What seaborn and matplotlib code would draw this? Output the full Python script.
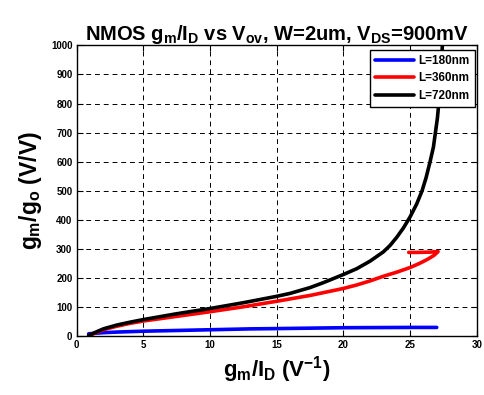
import numpy as np
import pandas as pd
import seaborn as sns
import matplotlib
matplotlib.use("Agg")
import matplotlib.pyplot as plt

# --- data ---
x_180 = [0.9, 2.0, 3.0, 5.0, 8.0, 10.0, 13.0, 15.0, 20.0, 25.0, 27.0]
y_180 = [8, 12, 14, 17, 20, 22, 25, 26, 29, 30, 30]

x_360 = [0.9, 1.5, 2.0, 3.0, 4.0, 5.0, 7.5, 10.0, 12.5, 15.0, 17.5, 20.0,
         21.0, 22.0, 23.0, 24.0, 25.0, 25.7, 26.3, 26.8, 27.1, 26.5, 25.5, 24.9]
y_360 = [2, 13, 22, 34, 44, 52, 68, 84, 101, 120, 140, 164,
         176, 190, 206, 220, 236, 250, 264, 278, 291, 289, 288, 288]

x_720 = [0.9, 1.5, 2.0, 3.0, 4.0, 5.0, 6.0, 7.5, 10.0, 12.5, 15.0, 16.0,
         17.5, 18.5, 20.0, 21.0, 22.0, 23.0, 23.5, 24.0, 24.5, 25.0, 25.5,
         25.9, 26.2, 26.5, 26.75, 26.9, 27.05, 27.15, 27.25, 27.35, 27.42]
y_720 = [2, 15, 25, 38, 48, 57, 65, 77, 95, 115, 137, 147,
         167, 184, 212, 232, 258, 290, 312, 340, 372, 410, 455,
         500, 545, 600, 650, 700, 750, 800, 860, 930, 1000]

labels = ["L=180nm", "L=360nm", "L=720nm"]
colors = ["#0000ff", "#ff0000", "#000000"]
x_ticks = [0, 5, 10, 15, 20, 25, 30]
y_ticks = [0, 100, 200, 300, 400, 500, 600, 700, 800, 900, 1000]

frames = []
for lab, xs, ys in zip(labels, [x_180, x_360, x_720], [y_180, y_360, y_720]):
    frames.append(pd.DataFrame({"x": xs, "y": ys, "L": lab}))
df = pd.concat(frames, ignore_index=True)

sns.set_style("ticks")
plt.rcParams["font.family"] = ["Liberation Sans", "DejaVu Sans"]
plt.rcParams["font.weight"] = "bold"
plt.rcParams["text.color"] = "black"
plt.rcParams["axes.labelcolor"] = "black"
plt.rcParams["xtick.color"] = "black"
plt.rcParams["ytick.color"] = "black"
plt.rcParams["mathtext.fontset"] = "custom"
plt.rcParams["mathtext.rm"] = "Liberation Sans:bold"
plt.rcParams["mathtext.it"] = "Liberation Sans:bold"
plt.rcParams["mathtext.bf"] = "Liberation Sans:bold"

fig = plt.figure(figsize=(4.85, 3.95), dpi=100)
ax = fig.add_axes([0.158, 0.149, 0.825, 0.736])

sns.lineplot(data=df, x="x", y="y", hue="L", palette=colors, sort=False,
             estimator=None, lw=2.6, ax=ax, legend=True)

ax.set_xlim(0, 30)
ax.set_ylim(0, 1000)
ax.set_xticks(x_ticks)
ax.set_yticks(y_ticks)
ax.tick_params(direction="in", top=True, right=True, labelsize=7, length=4,
               width=0.8, pad=3, colors="black")
for t in ax.get_xticklabels() + ax.get_yticklabels():
    t.set_fontweight("bold")
for s in ax.spines.values():
    s.set_visible(True)
    s.set_linewidth(1.0)
    s.set_color("black")

ax.grid(True, color="black", linestyle=(0, (5, 4)), linewidth=0.7)

ax.set_title(r"NMOS $g_m/I_D$ vs $V_{ov}$, W=2um, $V_{DS}$=900mV",
             fontsize=14.5, fontweight="bold", pad=4, color="black")
ax.set_xlabel(r"$g_m/I_D$ (V$^{-1}$)", fontsize=16, fontweight="bold",
              labelpad=3, color="black")
ax.set_ylabel(r"$g_m/g_o$ (V/V)", fontsize=16.5, fontweight="bold",
              labelpad=5, color="black")

leg = ax.legend(loc="upper right", bbox_to_anchor=(0.996, 0.985),
                borderaxespad=0, fancybox=False, framealpha=1,
                edgecolor="black", prop={"size": 8.5, "weight": "bold"},
                handlelength=3.3, handletextpad=0.4, labelspacing=0.45,
                borderpad=0.45)
leg.get_frame().set_linewidth(1.0)
for txt in leg.get_texts():
    txt.set_color("black")

fig.savefig("out.png", dpi=100)
